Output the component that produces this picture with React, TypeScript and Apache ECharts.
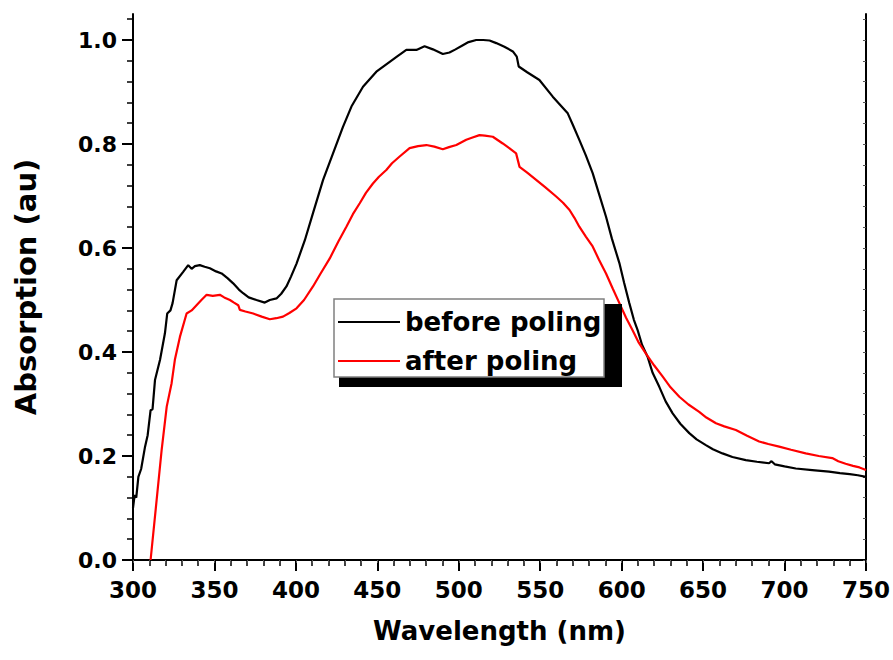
import React, { useEffect, useRef } from "react";
import * as echarts from "echarts";

const xTicks = [300, 350, 400, 450, 500, 550, 600, 650, 700, 750];
const yTicks = [0, 0.2, 0.4, 0.6, 0.8, 1.0];

const beforePoling: [number, number][] = [
  [300, 0.1], [301, 0.125], [302, 0.12], [303.3, 0.16], [305, 0.175], [307.4, 0.218], [309, 0.24],
  [310.8, 0.288], [312, 0.29], [313.5, 0.346], [316.6, 0.385], [319.6, 0.436], [321, 0.474], [323, 0.48],
  [324.3, 0.494], [326.8, 0.538], [330.8, 0.554], [333.9, 0.567], [336, 0.56], [338, 0.565], [341, 0.567],
  [344, 0.564], [347.2, 0.561], [351, 0.555], [354.4, 0.551], [358, 0.542], [361.5, 0.532], [365, 0.52],
  [367.6, 0.513], [371, 0.505], [375.8, 0.5], [380.9, 0.495], [384, 0.5], [388.1, 0.503], [391, 0.512],
  [394.2, 0.526], [397, 0.545], [400.4, 0.57], [405.5, 0.615], [410.5, 0.667], [416.7, 0.731], [422.8, 0.782],
  [428.9, 0.833], [434.1, 0.872], [441.2, 0.91], [449.4, 0.939], [457.6, 0.958], [462, 0.968], [467.8, 0.981],
  [474, 0.981], [479, 0.988], [484.1, 0.982], [490.2, 0.973], [494.3, 0.976], [498, 0.982], [502.5, 0.99],
  [506, 0.996], [510.7, 1.0], [515, 1.0], [518.9, 0.999], [523, 0.994], [528, 0.987], [533.2, 0.978],
  [535.6, 0.968], [536.8, 0.949], [542, 0.938], [549.5, 0.923], [557.7, 0.891], [562, 0.876], [566.9, 0.859],
  [570, 0.837], [574, 0.808], [578, 0.778], [582.2, 0.744], [586, 0.705], [590.4, 0.66], [594, 0.618],
  [598.6, 0.571], [601.5, 0.533], [604.7, 0.494], [607.5, 0.462], [609.8, 0.442], [612.5, 0.414], [615.9, 0.391],
  [619, 0.36], [623.1, 0.333], [627, 0.305], [631.3, 0.282], [636, 0.262], [641.5, 0.244], [646, 0.232],
  [651.7, 0.221], [656, 0.213], [661.9, 0.205], [668, 0.198], [676.2, 0.192], [683, 0.189],
  [690.5, 0.186], [692, 0.19], [694, 0.184], [700, 0.18], [706.9, 0.176], [717, 0.173], [727.3, 0.17],
  [734, 0.167], [740, 0.165], [745, 0.163], [750, 0.16],
];

const afterPoling: [number, number][] = [
  [310.8, 0.0], [314.5, 0.115], [317.6, 0.212], [320.7, 0.295], [323.7, 0.34], [325.7, 0.385], [328.8, 0.429],
  [332.9, 0.474], [336, 0.48], [339, 0.49], [342, 0.5], [345.2, 0.51], [349, 0.508], [353.3, 0.51],
  [356, 0.505], [359.5, 0.5], [362, 0.495], [364.6, 0.49], [365.6, 0.481], [369, 0.478], [373.8, 0.474],
  [379, 0.468], [384, 0.463], [388, 0.465], [392.1, 0.468], [396, 0.475], [400.4, 0.484], [405, 0.5],
  [410.5, 0.526], [415, 0.55], [420.8, 0.58], [426, 0.612], [431, 0.641], [435, 0.665], [439.2, 0.686],
  [443, 0.706], [447.3, 0.724], [451, 0.737], [455.5, 0.75], [459, 0.763], [463.7, 0.776], [469.8, 0.792],
  [475, 0.796], [480.1, 0.798], [485, 0.795], [490.2, 0.79], [494, 0.794], [498.5, 0.798], [504.6, 0.808],
  [508, 0.812], [512.7, 0.817], [516, 0.816], [520.9, 0.814], [527, 0.801], [531, 0.792], [535.2, 0.782],
  [537.3, 0.756], [542, 0.745], [547.5, 0.731], [553, 0.717], [559.8, 0.699], [564, 0.687], [568, 0.673],
  [571, 0.658], [574, 0.641], [578, 0.622], [582.2, 0.603], [586, 0.578], [590.4, 0.551], [594.5, 0.522],
  [598.6, 0.494], [602.7, 0.466], [606.7, 0.442], [610.5, 0.418], [614.9, 0.397], [620, 0.374],
  [625.1, 0.353], [630, 0.332], [635.4, 0.314], [641, 0.299], [647.6, 0.285], [652, 0.274], [657.9, 0.263],
  [663, 0.257], [670.1, 0.25], [677, 0.239], [684.4, 0.228], [690, 0.223], [696.7, 0.218], [704, 0.212],
  [713, 0.205], [721, 0.2], [729.3, 0.196], [733, 0.19], [737.5, 0.185], [742, 0.181], [746, 0.178], [750, 0.173],
];

const FONT = "DejaVu Sans";

export default function App() {
  const ref = useRef<HTMLDivElement>(null);
  useEffect(() => {
    document.body.style.margin = "0";
    if (!ref.current) return;
    const chart = echarts.init(ref.current, undefined, { renderer: "svg" });
    const minorX: number[] = [];
    for (let v = 300; v <= 750; v += 10) minorX.push(v);
    const minorY: number[] = [];
    for (let i = 0; i <= 26; i++) minorY.push(Math.round(i * 4) / 100);
    const hidden = { show: false };
    chart.setOption({
      animation: false,
      backgroundColor: "#ffffff",
      grid: { left: 133, right: 26, top: 14, bottom: 100, containLabel: false },
      xAxis: [
        {
          type: "value", min: 300, max: 750, interval: 50, position: "bottom",
          axisLine: { show: true, lineStyle: { color: "#000", width: 2 } },
          axisTick: { show: true, inside: false, length: 11, lineStyle: { color: "#000", width: 2 }, customValues: xTicks },
          axisLabel: { color: "#000", fontFamily: FONT, fontWeight: "bold", fontSize: 23, margin: 18, customValues: xTicks },
          splitLine: hidden,
          name: "Wavelength (nm)", nameLocation: "middle", nameGap: 58,
          nameTextStyle: { color: "#000", fontFamily: FONT, fontWeight: "bold", fontSize: 26 },
        },
        {
          type: "value", min: 300, max: 750, interval: 10, position: "bottom",
          axisLine: hidden,
          axisTick: { show: true, inside: false, length: 6, lineStyle: { color: "#000", width: 1.5 }, customValues: minorX },
          axisLabel: hidden, splitLine: hidden,
        },
        {
          type: "value", min: 300, max: 750, interval: 10, position: "top",
          axisLine: { show: true, lineStyle: { color: "#000", width: 2 } },
          axisTick: { show: true, inside: true, length: 3, lineStyle: { color: "#555", width: 1 }, customValues: minorX },
          axisLabel: hidden, splitLine: hidden,
        },
      ],
      yAxis: [
        {
          type: "value", min: 0, max: 1.05, interval: 0.2, position: "left",
          axisLine: { show: true, lineStyle: { color: "#000", width: 2 } },
          axisTick: { show: true, inside: false, length: 11, lineStyle: { color: "#000", width: 2 }, customValues: yTicks },
          axisLabel: {
            color: "#000", fontFamily: FONT, fontWeight: "bold", fontSize: 22, margin: 16,
            customValues: yTicks, formatter: (v: number) => v.toFixed(1),
          },
          splitLine: hidden,
          name: "Absorption (au)", nameLocation: "middle", nameGap: 93,
          nameTextStyle: { color: "#000", fontFamily: FONT, fontWeight: "bold", fontSize: 29 },
        },
        {
          type: "value", min: 0, max: 1.05, interval: 0.04, position: "left",
          axisLine: hidden,
          axisTick: { show: true, inside: false, length: 6, lineStyle: { color: "#000", width: 1.5 }, customValues: minorY },
          axisLabel: hidden, splitLine: hidden,
        },
        {
          type: "value", min: 0, max: 1.05, interval: 0.04, position: "right",
          axisLine: { show: true, lineStyle: { color: "#000", width: 2 } },
          axisTick: { show: true, inside: true, length: 3, lineStyle: { color: "#555", width: 1 }, customValues: minorY },
          axisLabel: hidden, splitLine: hidden,
        },
      ],
      legend: {
        show: true, orient: "vertical", left: 338, top: 307, padding: 0,
        itemWidth: 62, itemHeight: 2, itemGap: 9, z: 12,
        textStyle: { color: "#000", fontFamily: FONT, fontWeight: "bold", fontSize: 26, lineHeight: 30 },
        data: [
          { name: "before poling", icon: "rect", itemStyle: { color: "#000" } },
          { name: "after poling", icon: "rect", itemStyle: { color: "#ff0000" } },
        ],
      },
      graphic: [
        { type: "rect", z: 10, shape: { x: 339, y: 304, width: 283, height: 83 }, style: { fill: "#000" } },
        { type: "rect", z: 11, shape: { x: 334, y: 299, width: 270, height: 78 }, style: { fill: "#fff", stroke: "#808080", lineWidth: 1.5 } },
      ],
      series: [
        {
          name: "before poling", type: "line", xAxisIndex: 0, yAxisIndex: 0, data: beforePoling,
          symbol: "none", showSymbol: false, z: 3,
          lineStyle: { color: "#000", width: 2.2 }, itemStyle: { color: "#000" },
        },
        {
          name: "after poling", type: "line", xAxisIndex: 0, yAxisIndex: 0, data: afterPoling,
          symbol: "none", showSymbol: false, z: 3,
          lineStyle: { color: "#ff0000", width: 2.2 }, itemStyle: { color: "#ff0000" },
        },
      ],
    });
    return () => chart.dispose();
  }, []);
  return <div ref={ref} style={{ width: 893, height: 660 }} />;
}
